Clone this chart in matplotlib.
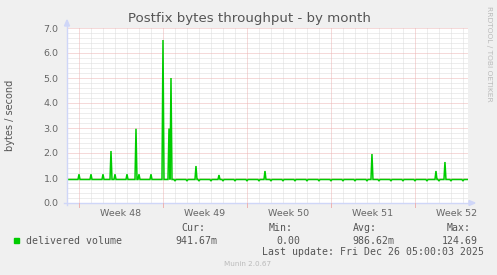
import numpy as np
import matplotlib
matplotlib.use("Agg")
import matplotlib.pyplot as plt
from matplotlib.patches import Polygon, Rectangle

# ---------------- data ----------------
title = "Postfix bytes throughput - by month"
ylabel = "bytes / second"
week_labels = ["Week 48", "Week 49", "Week 50", "Week 51", "Week 52"]
week_label_days = [4.5, 11.5, 18.5, 25.5, 32.5]
week_grid_days = [1, 8, 15, 22, 29]
y_ticks = [0.0, 1.0, 2.0, 3.0, 4.0, 5.0, 6.0, 7.0]

step_per_day = 12            # 2-hour samples
span_days = 33.42
baseline = 0.94              # steady level, bytes/s

# small daily bumps (first week) and small daily dips (later)
bump_days = [1, 2, 3, 4, 5, 6, 7, 8]
bump_vals = [1.15, 1.15, 1.15, 1.15, 1.15, 1.15, 1.15, 1.15]
dip_days = [9, 10, 11, 12, 13, 14, 15, 16, 17, 18, 19, 20, 21,
            22, 23, 24, 25, 26, 27, 28, 29, 30, 31, 32, 33]
dip_vals = [0.88] * 25
# larger spikes
spike_days = [3.69, 5.78, 8.02, 8.50, 8.67, 10.71, 12.69, 16.47, 25.44, 30.78, 31.53]
spike_vals = [2.08, 2.97, 6.52, 2.98, 5.00, 1.48, 1.12, 1.28, 1.96, 1.28, 1.64]

legend_name = "delivered volume"
stats_heads = ["Cur:", "Min:", "Avg:", "Max:"]
stats_vals = ["941.67m", "0.00", "986.62m", "124.69"]
last_update = "Last update: Fri Dec 26 05:00:03 2025"
footer = "Munin 2.0.67"
side_text = "RRDTOOL / TOBI OETIKER"

# ---------------- build series ----------------
n = int(round(span_days * step_per_day)) + 1
t = np.arange(n) / step_per_day
v = np.full(n, baseline)
for d, val in list(zip(bump_days, bump_vals)) + list(zip(dip_days, dip_vals)) + list(zip(spike_days, spike_vals)):
    i = int(round(d * step_per_day))
    if 0 <= i < n:
        v[i] = val

# ---------------- figure ----------------
W, H = 497, 275
BG = "#F0F0F0"
fig = plt.figure(figsize=(W / 100, H / 100), dpi=100, facecolor=BG)

x0, x1, ytop, ybot = 67, 468, 28, 203
ax = fig.add_axes([x0 / W, (H - ybot) / H, (x1 - x0) / W, (ybot - ytop) / H])
ax.set_facecolor("#FFFFFF")
ax.set_xlim(0, span_days)
ax.set_ylim(0, 7)

for s in ax.spines.values():
    s.set_visible(False)

minor_c = "#DCDCDC"
major_c = "#EDB4B4"
dots = (0, (1, 1))
# minor grid (skip positions of the major grid)
for k in range(1, 36):
    if k % 5 == 0:
        continue
    ax.axhline(k * 0.2, color=minor_c, lw=0.72, ls=dots, zorder=1)
for d in range(1, 34):
    if d in week_grid_days:
        continue
    ax.axvline(d, color=minor_c, lw=0.72, ls=dots, zorder=1)
# major grid
for yy in y_ticks[1:]:
    ax.axhline(yy, color=major_c, lw=0.72, ls=dots, zorder=2)
for d in week_grid_days:
    ax.axvline(d, color=major_c, lw=0.72, ls=dots, zorder=2)

ax.plot(t, v, color="#00CC00", lw=1.1, zorder=5, solid_joinstyle="miter")

ax.set_xticks(week_label_days)
ax.set_xticklabels(week_labels)
ax.set_yticks(y_ticks)
ax.set_yticklabels([f"{y:.1f}" for y in y_ticks])
ax.tick_params(axis="both", length=0, colors="#666666", labelsize=6.8)
ax.tick_params(axis="x", pad=4)
ax.tick_params(axis="y", pad=6)

# axes lines + arrows (figure pixel coords)
axis_c = "#CFD6F8"
def fx(px):
    return px / W
def fy(py):
    return (H - py) / H
fig.add_artist(plt.Line2D([fx(67), fx(67)], [fy(205), fy(24)], color=axis_c, lw=1.0))
fig.add_artist(plt.Line2D([fx(64), fx(470)], [fy(203), fy(203)], color=axis_c, lw=1.0))
fig.add_artist(Polygon([[fx(64.5), fy(26)], [fx(69.5), fy(26)], [fx(67), fy(20)]],
                       closed=True, color=axis_c, transform=fig.transFigure))
fig.add_artist(Polygon([[fx(469), fy(200.5)], [fx(469), fy(205.5)], [fx(475), fy(203)]],
                       closed=True, color=axis_c, transform=fig.transFigure))
# major ticks below the x axis
for d in week_grid_days:
    px = x0 + d * 12
    fig.add_artist(plt.Line2D([fx(px), fx(px)], [fy(203), fy(207)], color=major_c, lw=0.72))

# ---------------- texts ----------------
fig.text(fx(249), fy(18.5), title, ha="center", va="center", fontsize=9.6, color="#555555")
fig.text(fx(10), fy(115), ylabel, ha="center", va="center", rotation=90, fontsize=7, color="#555555")
fig.text(fx(488.5), fy(53.5), side_text, ha="center", va="center", rotation=270,
         fontsize=5.4, color="#BBBBBB")

mono = "DejaVu Sans Mono"
fs = 7.15
tc = "#555555"
fig.add_artist(Rectangle((fx(14), fy(243)), 5 / W, 5 / H, color="#00CC00", transform=fig.transFigure))
fig.text(fx(26), fy(240.5), legend_name, ha="left", va="center", family=mono, fontsize=fs, color=tc)
head_x = [181, 269, 353, 447]
val_x = [175, 276, 352, 442]
for hx, h in zip(head_x, stats_heads):
    fig.text(fx(hx), fy(228), h, ha="left", va="center", family=mono, fontsize=fs, color=tc)
for vx, s in zip(val_x, stats_vals):
    fig.text(fx(vx), fy(240.5), s, ha="left", va="center", family=mono, fontsize=fs, color=tc)
fig.text(fx(262), fy(252), last_update, ha="left", va="center", family=mono, fontsize=fs, color=tc)
fig.text(fx(248), fy(264), footer, ha="center", va="center", fontsize=5.2, color="#BBBBBB")

fig.savefig("out.png", dpi=100, facecolor=BG)
